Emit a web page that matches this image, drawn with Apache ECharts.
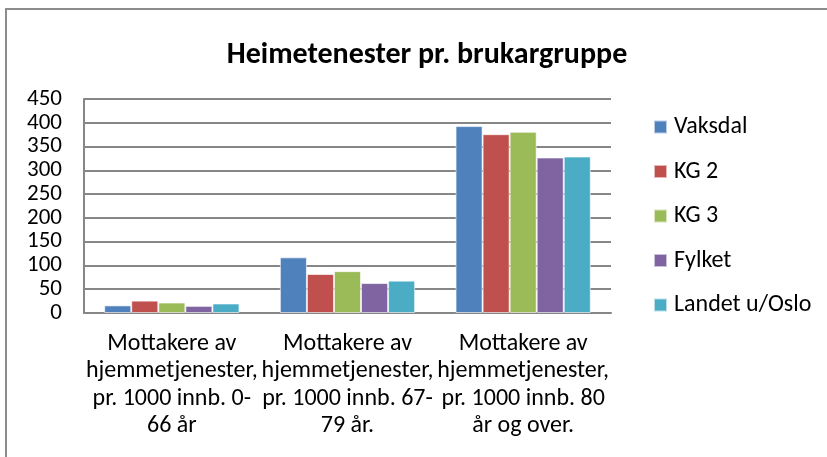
<!DOCTYPE html>
<html>
<head>
<meta charset="utf-8">
<script src="https://cdn.jsdelivr.net/npm/echarts@6/dist/echarts.min.js"></script>
<style>
  html, body { margin: 0; padding: 0; background: #fff; }
  .com-container { position: relative; width: 827px; height: 457px; overflow: hidden; }
  .frame { position: absolute; left: 5px; top: 8px; width: 840px; height: 470px; border: 2px solid #8c8c8c; box-sizing: border-box; }
  .com-chart { position: absolute; left: 0; top: 0; width: 827px; height: 457px; }
</style>
</head>
<body>
<div class="com-container">
  <div class="frame"></div>
  <div class="com-chart" id="chart_ref"></div>
</div>
<script>
const titleText = 'Heimetenester pr. brukargruppe'
const categories = [
  'Mottakere av\nhjemmetjenester,\npr. 1000 innb. 0-\n66 år',
  'Mottakere av\nhjemmetjenester,\npr. 1000 innb. 67-\n79 år.',
  'Mottakere av\nhjemmetjenester,\npr. 1000 innb. 80\når og over.'
]
const seriesNames = ['Vaksdal', 'KG 2', 'KG 3', 'Fylket', 'Landet u/Oslo']
const vaksdal = [16, 117, 393]
const kg2 = [26, 82, 376]
const kg3 = [22, 88, 381]
const fylket = [15, 63, 327]
const landet = [20, 68, 329]
const yTicks = [0, 50, 100, 150, 200, 250, 300, 350, 400, 450]

const colorArr = ['#4F81BD', '#C0504D', '#9BBB59', '#8064A2', '#4BACC6']
const valueArrs = [vaksdal, kg2, kg3, fylket, landet]
const fontFamily = 'Carlito, "Open Sans", "Liberation Sans", sans-serif'

const chartInstance = echarts.init(document.getElementById('chart_ref'))

const seriesArr = valueArrs.map((data, index) => ({
  type: 'bar',
  name: seriesNames[index],
  data: data,
  barGap: '0%',
  barCategoryGap: '23%',
  itemStyle: {
    color: colorArr[index],
    borderColor: 'rgba(255,255,255,0.6)',
    borderWidth: 1
  }
}))

const option = {
  animation: false,
  textStyle: { fontFamily: fontFamily },
  title: {
    text: titleText,
    left: 422,
    textAlign: 'center',
    top: 35,
    textStyle: { fontSize: 30, fontWeight: 'bold', color: '#000', fontFamily: fontFamily }
  },
  grid: {
    left: 84,
    right: 827 - 611,
    top: 99,
    bottom: 457 - 313
  },
  legend: {
    orient: 'vertical',
    left: 648,
    top: 110,
    itemWidth: 13,
    itemHeight: 13,
    itemGap: 20.5,
    icon: 'rect',
    data: seriesNames,
    textStyle: { fontSize: 24, color: '#000', padding: [0, 0, 0, 2] }
  },
  xAxis: {
    type: 'category',
    data: categories,
    axisLine: { lineStyle: { color: '#868686', width: 2 } },
    axisTick: { show: false },
    axisLabel: {
      interval: 0,
      color: '#000',
      fontSize: 24,
      lineHeight: 27.5,
      margin: 17,
      align: 'center'
    }
  },
  yAxis: {
    type: 'value',
    min: yTicks[0],
    max: yTicks[yTicks.length - 1],
    interval: 50,
    axisLine: { show: true, lineStyle: { color: '#868686', width: 2 } },
    axisTick: { show: false },
    splitLine: { lineStyle: { color: '#868686', width: 2 } },
    axisLabel: { color: '#000', fontSize: 23, margin: 22 }
  },
  series: seriesArr
}
chartInstance.setOption(option)
</script>
</body>
</html>
